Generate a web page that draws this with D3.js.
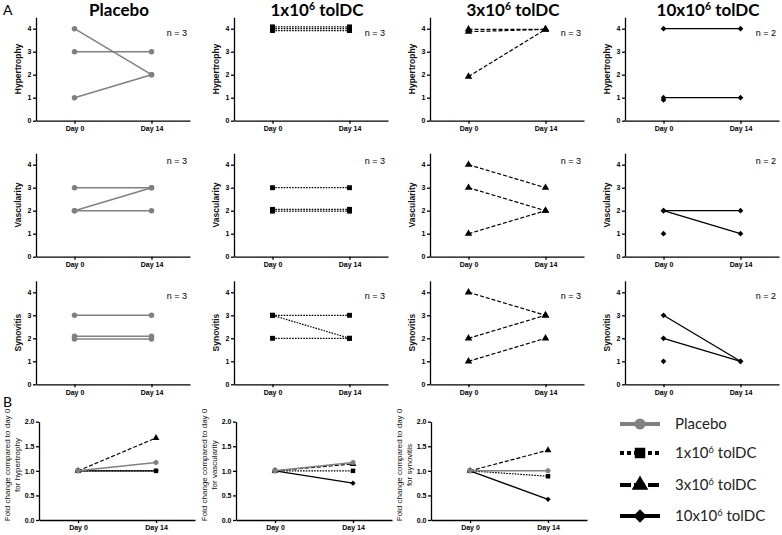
<!DOCTYPE html>
<html>
<head>
<meta charset="utf-8">
<script src="https://cdn.jsdelivr.net/npm/d3@7"></script>
<style>
  body { margin: 0; background: #fff; }
  svg { display: block; }
  .axis path, .axis line { stroke: #000; stroke-width: 1.3; }
  .axis text { font-family: "Liberation Sans", Arial, sans-serif; font-size: 7px; font-weight: bold; fill: #000; }
</style>
</head>
<body>
<svg id="chart" width="782" height="535"></svg>
<script>
// ---- data ----
const days = ["Day 0", "Day 14"];
const scoreNames = ["Hypertrophy", "Vascularity", "Synovitis"];
const scoreTicks = [0, 1, 2, 3, 4];
const groupNames = ["Placebo", "1x10^6 tolDC", "3x10^6 tolDC", "10x10^6 tolDC"];
const nLabels = ["n = 3", "n = 3", "n = 3", "n = 2"];

// one row per score (hypertrophy, vascularity, synovitis), one value per animal
const placeboDay0  = [[4, 3, 1], [3, 2, 2], [3, 2.09, 1.97]];
const placeboDay14 = [[2, 3, 2], [3, 3, 2], [3, 2.09, 1.97]];
const tol1Day0     = [[4.08, 4, 3.92], [3, 2.06, 1.98], [3, 3, 2]];
const tol1Day14    = [[4.08, 4, 3.92], [3, 2.06, 1.98], [3, 2, 2]];
const tol3Day0     = [[3.97, 3.87, 1.92], [4, 3, 1], [4, 2, 1]];
const tol3Day14    = [[3.97, 3.97, 3.97], [3, 2, 2], [3, 3, 2]];
const tol10Day0    = [[4, 1, 0.9], [2, 2, 1], [3, 2, 1]];
const tol10Day14   = [[4, 1, null], [2, 1, null], [1, 1, null]];

// fold change at day 14 (day 0 = 1) per group: placebo, 1x, 3x, 10x
const foldDay0 = [1, 1, 1, 1];
const foldHypertrophy = [1.17, 1.0, 1.67, 1.0];
const foldVascularity = [1.17, 1.0, 1.14, 0.75];
const foldSynovitis   = [1.0, 0.89, 1.42, 0.42];
const foldLabels = ["for hypertrophy", "for vascularity", "for synovitis"];
const foldTicks = [0, 0.5, 1, 1.5, 2];

// ---- layout / styles ----
const groupDay0 = [placeboDay0, tol1Day0, tol3Day0, tol10Day0];
const groupDay14 = [placeboDay14, tol1Day14, tol3Day14, tol10Day14];
const foldDay14 = [foldHypertrophy, foldVascularity, foldSynovitis];

const styles = [
    {color: "#808080", dash: null, width: 1.5, symbol: "circle", legendDash: null},
    {color: "#000", dash: "1.6,1.2", width: 1.2, symbol: "square", legendDash: "4,3"},
    {color: "#000", dash: "4,2", width: 1.2, symbol: "triangle", legendDash: "11,3"},
    {color: "#000", dash: null, width: 1.3, symbol: "diamond", legendDash: null},
];

const colLeft = [36, 234, 430, 625], plotW = 154;
const rowBase = [120.7, 256.7, 384.3], unitH = 23;
const nLabelY = [33, 161, 296];
const colLeftB = [39, 236, 431], plotWB = 156, baseB = 520, topB = 421.7;

const svg = d3.select("#chart");

function symbolPath(name, area) {
    if (name === "circle") return d3.symbol(d3.symbolCircle, area)();
    if (name === "triangle") return d3.symbol(d3.symbolTriangle, area)();
    return d3.symbol(d3.symbolSquare, area)();   // square, and diamond (rotated)
}

function richText(sel, label, size) {
    const m = label.match(/^(.*)\^(\d+)(.*)$/);
    if (!m) { sel.text(label); return; }
    sel.append("tspan").text(m[1]);
    sel.append("tspan").attr("font-size", size * 0.62).attr("dy", -size * 0.38).text(m[2]);
    sel.append("tspan").attr("font-size", size).attr("dy", size * 0.38).text(m[3]);
}

function drawMarkers(g, pts, st, area) {
    g.selectAll(null)
        .data(pts)
        .enter().append("path")
        .attr("d", symbolPath(st.symbol, area))
        .attr("transform", d => `translate(${d[0]},${d[1]})` + (st.symbol === "diamond" ? " rotate(45)" : ""))
        .attr("fill", st.color);
}

// ---- panel A ----
svg.append("text").attr("x", 3).attr("y", 15)
    .attr("font-family", "Lato, sans-serif").attr("font-size", 14).text("A");

groupNames.forEach((name, gi) => {
    const x = d3.scaleLinear().domain([-0.5, 1.5]).range([colLeft[gi], colLeft[gi] + plotW]);
    const st = styles[gi];

    const title = svg.append("text")
        .attr("x", colLeft[gi] + plotW / 2 + 6)
        .attr("y", 16)
        .attr("text-anchor", "middle")
        .attr("font-family", "Lato, sans-serif")
        .attr("font-weight", "bold")
        .attr("font-size", 17);
    richText(title, name, 17);

    scoreNames.forEach((score, si) => {
        const y = d3.scaleLinear().domain([0, 4.5]).range([rowBase[si], rowBase[si] - 4.5 * unitH]);
        const g = svg.append("g");

        g.append("g").attr("class", "axis")
            .attr("transform", `translate(${colLeft[gi]},0)`)
            .call(d3.axisLeft(y).tickValues(scoreTicks).tickFormat(d3.format("d"))
                .tickSize(3).tickSizeOuter(0).tickPadding(1.5));
        g.append("g").attr("class", "axis")
            .attr("transform", `translate(0,${rowBase[si]})`)
            .call(d3.axisBottom(x).tickValues([0, 1]).tickFormat(i => days[i])
                .tickSize(3).tickSizeOuter(0).tickPadding(2.5));

        g.append("text")
            .attr("transform", `translate(${colLeft[gi] - 15},${rowBase[si] - 2.25 * unitH}) rotate(-90)`)
            .attr("text-anchor", "middle")
            .attr("font-family", "Liberation Sans, Arial, sans-serif")
            .attr("font-weight", "bold")
            .attr("font-size", 8.5)
            .attr("fill", "#111")
            .text(score);

        g.append("text")
            .attr("x", colLeft[gi] + 141)
            .attr("y", nLabelY[si])
            .attr("dy", "0.35em")
            .attr("text-anchor", "middle")
            .attr("font-family", "Liberation Sans, Arial, sans-serif")
            .attr("font-size", 9)
            .text(nLabels[gi]);

        const d0 = groupDay0[gi][si], d14 = groupDay14[gi][si];
        const pairs = d0.map((v, k) => [v, d14[k]]).filter(p => p[1] !== null);
        g.selectAll(null)
            .data(pairs)
            .enter().append("line")
            .attr("x1", x(0)).attr("x2", x(1))
            .attr("y1", p => y(p[0])).attr("y2", p => y(p[1]))
            .attr("stroke", st.color)
            .attr("stroke-width", st.width)
            .attr("stroke-dasharray", st.dash);

        const pts = d0.map(v => [x(0), y(v)])
            .concat(d14.filter(v => v !== null).map(v => [x(1), y(v)]));
        drawMarkers(g, pts, st, st.symbol === "diamond" ? 16 : 24);
    });
});

// ---- panel B ----
svg.append("text").attr("x", 3).attr("y", 407)
    .attr("font-family", "Lato, sans-serif").attr("font-size", 14).text("B");

foldLabels.forEach((lab, si) => {
    const x = d3.scaleLinear().domain([-0.5, 1.5]).range([colLeftB[si], colLeftB[si] + plotWB]);
    const y = d3.scaleLinear().domain([0, 2]).range([baseB, topB]);
    const g = svg.append("g");

    g.append("g").attr("class", "axis")
        .attr("transform", `translate(${colLeftB[si]},0)`)
        .call(d3.axisLeft(y).tickValues(foldTicks).tickFormat(d3.format(".1f"))
            .tickSize(3).tickSizeOuter(0).tickPadding(1.5));
    g.append("g").attr("class", "axis")
        .attr("transform", `translate(0,${baseB})`)
        .call(d3.axisBottom(x).tickValues([0, 1]).tickFormat(i => days[i])
            .tickSize(3).tickSizeOuter(0).tickPadding(2.5));

    const yl = g.append("text")
        .attr("transform", `translate(${colLeftB[si] - 32},${465}) rotate(-90)`)
        .attr("text-anchor", "middle")
        .attr("font-family", "Liberation Sans, Arial, sans-serif")
        .attr("font-size", 8)
        .attr("fill", "#111");
    yl.append("tspan").attr("x", 0).attr("dy", "0.35em").text("Fold change compared to day 0");
    yl.append("tspan").attr("x", 0).attr("dy", "1.3em").text(lab);

    // draw 10x first, placebo last
    [3, 2, 1, 0].forEach(gi => {
        const st = styles[gi];
        const v0 = foldDay0[gi], v14 = foldDay14[si][gi];
        g.append("line")
            .attr("x1", x(0)).attr("x2", x(1))
            .attr("y1", y(v0)).attr("y2", y(v14))
            .attr("stroke", st.color)
            .attr("stroke-width", st.width)
            .attr("stroke-dasharray", st.dash);
        drawMarkers(g, [[x(0), y(v0)], [x(1), y(v14)]], st, st.symbol === "diamond" ? 14 : 20);
    });
});

// ---- legend ----
const legendY = [424, 453, 485, 516];
const legend = svg.append("g");
groupNames.forEach((name, gi) => {
    const st = styles[gi];
    const row = legend.append("g").attr("transform", `translate(620,${legendY[gi]})`);
    row.append("line")
        .attr("x1", 0).attr("x2", 40)
        .attr("stroke", st.color)
        .attr("stroke-width", 4)
        .attr("stroke-dasharray", st.legendDash);
    const area = {circle: 95, square: 110, triangle: 120, diamond: 90}[st.symbol];
    row.append("path")
        .attr("d", symbolPath(st.symbol, area))
        .attr("transform", "translate(20,0)" + (st.symbol === "diamond" ? " rotate(45)" : ""))
        .attr("fill", st.color);
    const t = row.append("text")
        .attr("x", 55).attr("dy", "0.35em")
        .attr("font-family", "Lato, sans-serif")
        .attr("font-size", 15)
        .attr("fill", "#222");
    richText(t, name, 15);
});
</script>
</body>
</html>
